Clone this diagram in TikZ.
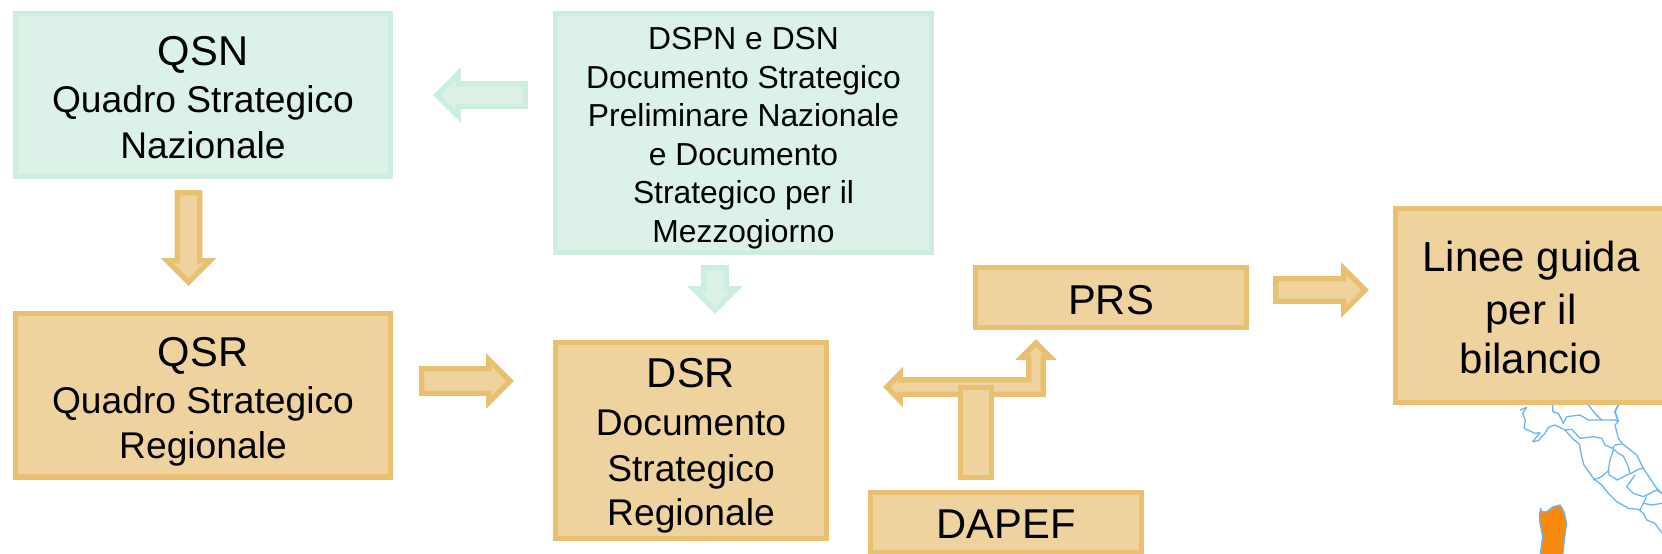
\documentclass[tikz,border=0pt]{standalone}
\usepackage{fontspec}
\setmainfont{Liberation Sans}
\usetikzlibrary{calc}
\definecolor{ofill}{HTML}{EED39E}
\definecolor{oline}{HTML}{E8C06F}
\definecolor{gfill}{HTML}{DCF1E8}
\definecolor{gline}{HTML}{CBEEDF}
\definecolor{mapline}{HTML}{6AB6F3}
\definecolor{sard}{HTML}{F7890F}
\tikzset{
  obox/.style={draw=oline,fill=ofill,line width=5.3pt,inner sep=0pt,align=center,text=black,font=\offinterlineskip},
  gbox/.style={draw=gline,fill=gfill,line width=5.3pt,inner sep=0pt,align=center,text=black,font=\offinterlineskip},
  oarrow/.style={draw=oline,fill=ofill,line width=5.3pt},
  garrow/.style={draw=gline,fill=gfill,line width=5.3pt},
  region/.style={draw=mapline,line width=1.3pt,line join=round},
}
% one line of text: font size, room above the baseline (the room below is 10pt), text
\newcommand{\tl}[3]{{\fontsize{#1}{#1}\selectfont\rule[-10pt]{0pt}{\dimexpr#2pt+10pt\relax}#3}}
\newcommand{\blockarrow}[5]{%
  \coordinate (hb) at ($(#2)!#4!(#1)$);
  \path[#5] ($(#1)!#3!90:(#2)$) -- ($(hb)!#3!-90:(#1)$) -- ($(hb)!#4!-90:(#1)$) -- (#2)
    -- ($(hb)!#4!90:(#1)$) -- ($(hb)!#3!90:(#1)$) -- ($(#1)!#3!-90:(#2)$) -- cycle;
}
\begin{document}
\begin{tikzpicture}[x=1pt,y=-1pt]
\useasboundingbox (0,0) rectangle (1662,554);
\clip (0,0) rectangle (1662,554);
% map
\begin{scope}[shift={(1380,370)},x=0.3333pt,y=-0.3333pt]
 \draw[region] (420,120)--(440,112)--(428,130)--(436,150)--(432,175)--(465,190)--(480,188)--(458,215)--(475,212)--(495,190)--(505,172)--(525,165)--(555,180)--(580,208)--(598,222)--(605,260)--(612,285)--(640,325)--(665,345)--(685,370)--(710,395)--(745,415)--(775,418)--(790,430)--(800,450)--(825,460)--(846,490);
 \draw[region] (518,105)--(518,125)--(535,130)--(550,160)--(560,140)--(600,135)--(625,150)--(665,150)--(705,150)--(715,155)--(705,165)--(715,205)--(728,222)--(770,255)--(790,295)--(830,355)--(846,370);
 \draw[region] (625,105)--(645,130)--(665,150);
 \draw[region,line width=1.8pt] (715,105)--(705,125)--(715,155);
 \draw[region] (555,180)--(575,178)--(600,205)--(640,200)--(665,205)--(675,225)--(698,235)--(705,225)--(725,222);
 \draw[region] (698,235)--(715,250)--(730,258)--(745,290)--(750,310)--(735,318)--(712,330)--(688,315)--(685,300)--(690,270)--(700,240);
 \draw[region] (640,330)--(665,320)--(688,300);
 \draw[region] (750,312)--(775,298)--(790,295);
 \draw[region] (765,315)--(740,350)--(760,370)--(790,380)--(830,360)--(846,370);
 \draw[region] (800,380)--(790,400)--(815,405)--(846,400);
 \draw[region] (790,400)--(780,420);
 \draw[region,fill=sard] (478,435)--(482,415)--(485,425)--(500,425)--(520,410)--(540,405)--(552,425)--(560,460)--(553,510)--(548,560)--(480,560)--(488,500)--(480,460)--cycle;
\end{scope}
% boxes
\node[gbox,minimum width=374.7pt,minimum height=162.7pt] (qsn) at (203,95)
  {\tl{41.7}{44.3}{QSN}\\\tl{37.2}{37}{Quadro Strategico}\\\tl{37.2}{35.4}{Nazionale}};
\node[gbox,minimum width=375.7pt,minimum height=238.7pt] (dspn) at (743.5,133)
  {\tl{31.8}{36.1}{DSPN e DSN}\\\tl{31.8}{28.6}{Documento Strategico}\\\tl{31.8}{28.6}{Preliminare Nazionale}\\\tl{31.8}{28.6}{e Documento}\\\tl{31.8}{28.6}{Strategico per il}\\\tl{31.8}{28.6}{Mezzogiorno}};
\node[obox,minimum width=374.7pt,minimum height=163.7pt] (qsr) at (203,395)
  {\tl{41.7}{44.5}{QSR}\\\tl{37.2}{37}{Quadro Strategico}\\\tl{37.2}{35.4}{Regionale}};
\node[obox,minimum width=270.7pt,minimum height=195.7pt] (dsr) at (691,440.5)
  {\tl{41.7}{42.2}{DSR}\\\tl{37.2}{37.3}{Documento}\\\tl{37.2}{36.6}{Strategico}\\\tl{37.2}{33.5}{Regionale}};
\node[obox,minimum width=270.7pt,minimum height=59.7pt] (prs) at (1111,297.5) {\tl{41.7}{44.8}{PRS}};
\node[obox,minimum width=270.7pt,minimum height=59.7pt] (dapef) at (1006,522.5) {\tl{41.7}{42.8}{DAPEF}};
\node[obox,minimum width=270.7pt,minimum height=193.7pt] (linee) at (1531,305.5)
  {\tl{42}{43}{Linee guida}\\\tl{42}{43}{per il}\\\tl{42}{39}{bilancio}};
% block arrows
\coordinate (a1s) at (525.3,95);  \coordinate (a1t) at (436.8,95);
\blockarrow{a1s}{a1t}{11.3pt}{21.5pt}{garrow}
\coordinate (a2s) at (715,267.7); \coordinate (a2t) at (715,310.2);
\blockarrow{a2s}{a2t}{11.3pt}{21.5pt}{garrow}
\coordinate (a3s) at (188.5,192.7); \coordinate (a3t) at (188.5,282.2);
\blockarrow{a3s}{a3t}{11.3pt}{21.5pt}{oarrow}
\coordinate (a4s) at (421.7,381); \coordinate (a4t) at (510.2,381);
\blockarrow{a4s}{a4t}{12.3pt}{21.5pt}{oarrow}
\coordinate (a5s) at (1275.7,290); \coordinate (a5t) at (1365.2,290);
\blockarrow{a5s}{a5t}{11.3pt}{21.5pt}{oarrow}
% bent double arrow, with the stem in front
\path[oarrow] (1036,342.8)--(1050.5,357.3)--(1043.3,357.3)--(1043.3,394.3)--(900.3,394.3)--(900.3,400.8)--(886.8,387)--(900.3,373.2)--(900.3,379.7)--(1028.7,379.7)--(1028.7,357.3)--(1021.5,357.3)--cycle;
\node[obox,minimum width=30.7pt,minimum height=89.7pt] (stem) at (976,432.5) {};
\end{tikzpicture}
\end{document}
